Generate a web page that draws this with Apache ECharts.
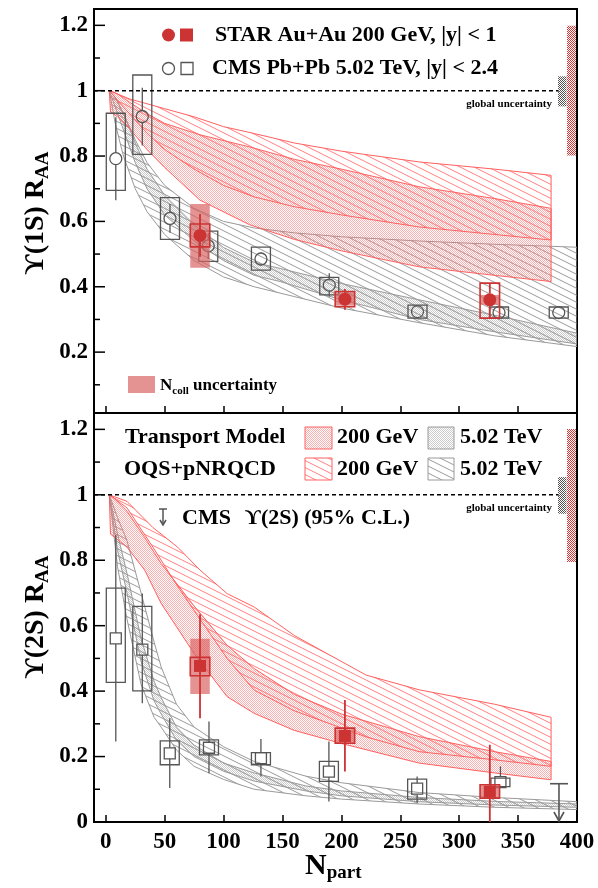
<!DOCTYPE html>
<html><head><meta charset="utf-8">
<script src="https://cdn.jsdelivr.net/npm/echarts@6/dist/echarts.min.js"></script>
<style>html,body{margin:0;padding:0;background:#fff}#c{width:598px;height:888px}</style>
</head><body><div id="c"></div>
<script>
// ===== Υ(1S) panel data =====
const cms1S_Npart  = [8.5, 31, 54.5, 87, 131.7, 189.7, 264.6, 333.8, 384.5];
const cms1S_RAA    = [0.792, 0.921, 0.609, 0.525, 0.485, 0.405, 0.324, 0.321, 0.321];
const cms1S_statLo = [0.665, 0.832, 0.565, 0.485, 0.465, 0.370, 0.314, 0.311, 0.311];
const cms1S_statHi = [0.919, 1.009, 0.653, 0.565, 0.505, 0.441, 0.334, 0.331, 0.331];
const cms1S_sysLo  = [0.695, 0.805, 0.545, 0.478, 0.451, 0.375, 0.304, 0.304, 0.304];
const cms1S_sysHi  = [0.931, 1.048, 0.673, 0.570, 0.521, 0.429, 0.344, 0.338, 0.338];

const star1S_Npart  = [80, 203, 326];
const star1S_RAA    = [0.557, 0.362, 0.360];
const star1S_statLo = [0.492, 0.330, 0.304];
const star1S_statHi = [0.623, 0.393, 0.411];
const star1S_sysLo  = [0.522, 0.339, 0.304];
const star1S_sysHi  = [0.592, 0.385, 0.411];
const star1S_ncollLo = [0.458, 0.342, 0.345];
const star1S_ncollHi = [0.653, 0.382, 0.375];

// model bands, Υ(1S)
const tm200_1S_N  = [3, 4, 10, 20, 35, 50, 80, 122, 160, 200, 266, 330, 378];
const tm200_1S_hi = [1.0, 1.0, 0.99, 0.965, 0.93, 0.90, 0.865, 0.828, 0.79, 0.76, 0.706, 0.67, 0.640];
const tm200_1S_lo = [1.0, 0.935, 0.92, 0.885, 0.82, 0.765, 0.665, 0.59, 0.545, 0.51, 0.461, 0.435, 0.416];
const oqs200_1S_N  = [3, 10, 20, 35, 50, 75, 100, 126, 160, 200, 266, 330, 378];
const oqs200_1S_hi = [1.0, 0.99, 0.975, 0.96, 0.945, 0.92, 0.89, 0.869, 0.84, 0.815, 0.782, 0.76, 0.741];
const oqs200_1S_lo = [1.0, 0.97, 0.93, 0.87, 0.82, 0.76, 0.71, 0.675, 0.645, 0.62, 0.583, 0.56, 0.543];
const tm502_1S_N  = [3, 8, 15, 25, 35, 50, 75, 100, 126, 148, 200, 266, 334, 400];
const tm502_1S_hi = [1.0, 0.98, 0.93, 0.84, 0.76, 0.68, 0.59, 0.52, 0.475, 0.456, 0.41, 0.36, 0.31, 0.258];
const tm502_1S_lo = [1.0, 0.95, 0.88, 0.78, 0.70, 0.62, 0.54, 0.48, 0.435, 0.416, 0.36, 0.30, 0.26, 0.225];
const oqs502_1S_N  = [3, 8, 15, 25, 35, 50, 75, 100, 126, 160, 200, 266, 330, 400];
const oqs502_1S_hi = [1.0, 0.98, 0.93, 0.85, 0.78, 0.71, 0.64, 0.60, 0.58, 0.565, 0.553, 0.54, 0.53, 0.521];
const oqs502_1S_lo = [1.0, 0.90, 0.80, 0.70, 0.63, 0.56, 0.48, 0.43, 0.40, 0.37, 0.335, 0.29, 0.25, 0.217];

// ===== Υ(2S) panel data =====
const cms2S_Npart  = [8.5, 31, 54.3, 87.6, 131.7, 189.4, 264.3, 335];
const cms2S_RAA    = [0.561, 0.527, 0.210, 0.227, 0.195, 0.154, 0.102, 0.122];
const cms2S_statLo = [0.246, 0.363, 0.104, 0.149, 0.139, 0.063, 0.058, 0.105];
const cms2S_statHi = [0.877, 0.698, 0.317, 0.307, 0.254, 0.246, 0.139, 0.170];
const cms2S_sysLo  = [0.427, 0.401, 0.175, 0.205, 0.175, 0.124, 0.070, 0.108];
const cms2S_sysHi  = [0.715, 0.659, 0.248, 0.251, 0.212, 0.185, 0.131, 0.134];
const cms2S_limitNpart = [384.7];
const cms2S_limitRAA   = [0.117];

const star2S_Npart  = [80, 203, 326];
const star2S_RAA    = [0.477, 0.263, 0.093];
const star2S_statLo = [0.317, 0.154, 0.0];
const star2S_statHi = [0.635, 0.373, 0.236];
const star2S_sysLo  = [0.447, 0.241, 0.073];
const star2S_sysHi  = [0.503, 0.287, 0.114];
const star2S_ncollLo = [0.391, 0.245, 0.075];
const star2S_ncollHi = [0.560, 0.283, 0.112];

const tm200_2S_N  = [3, 4, 18, 33, 47, 75, 103, 126, 160, 200, 266, 330, 378];
const tm200_2S_hi = [1.0, 1.0, 0.95, 0.87, 0.79, 0.66, 0.54, 0.469, 0.39, 0.33, 0.261, 0.215, 0.185];
const tm200_2S_lo = [1.0, 0.88, 0.84, 0.77, 0.668, 0.515, 0.383, 0.332, 0.28, 0.24, 0.18, 0.15, 0.129];
const oqs200_2S_N  = [3, 18, 40, 61, 80, 103, 126, 160, 221, 266, 330, 378];
const oqs200_2S_hi = [1.0, 0.98, 0.90, 0.84, 0.77, 0.698, 0.657, 0.57, 0.449, 0.404, 0.36, 0.32];
const oqs200_2S_lo = [1.0, 0.96, 0.84, 0.72, 0.62, 0.50, 0.403, 0.34, 0.26, 0.215, 0.19, 0.17];
const oqs502_2S_N  = [3, 10, 18, 30, 41, 47, 60, 75, 100, 126, 170, 200, 266, 330, 400];
const oqs502_2S_hi = [1.0, 0.93, 0.86, 0.70, 0.55, 0.474, 0.36, 0.29, 0.23, 0.185, 0.14, 0.12, 0.09, 0.075, 0.062];
const oqs502_2S_lo = [1.0, 0.78, 0.62, 0.42, 0.32, 0.29, 0.22, 0.17, 0.13, 0.10, 0.08, 0.07, 0.055, 0.045, 0.038];
const tm502_2S_N  = [3, 10, 18, 30, 41, 47, 60, 75, 100, 126, 170, 200, 266, 330, 400];
const tm502_2S_hi = [1.0, 0.88, 0.76, 0.56, 0.43, 0.38, 0.29, 0.235, 0.18, 0.15, 0.11, 0.095, 0.075, 0.063, 0.055];
const tm502_2S_lo = [1.0, 0.83, 0.70, 0.49, 0.37, 0.33, 0.25, 0.20, 0.155, 0.125, 0.095, 0.08, 0.062, 0.052, 0.045];

// global uncertainties [lo, hi]
const glob1S_star = [0.802, 1.199];
const glob1S_cms  = [0.952, 1.044];
const glob2S_star = [0.795, 1.201];
const glob2S_cms  = [0.942, 1.054];

const refLine = [1];
const majorTicks1S = [0.2, 0.4, 0.6, 0.8, 1.0, 1.2];
const majorTicks2S = [0.2, 0.4, 0.6, 0.8, 1.0, 1.2];
const minorTicks = [0.1, 0.3, 0.5, 0.7, 0.9, 1.1];
const xRange = [-10, 400];
const yRange1S = [0.0137, 1.25];
const yRange2S = [0, 1.25];

// ===== styling helpers =====
const FONT = '"Liberation Serif","Times New Roman",serif';
const RED = '#cc3333';
const GRAY = '#555555';
const NCOLL = 'rgba(218,100,100,0.7)';

function hatchTile(color, w, h, lw) {
  const c = document.createElement('canvas'); c.width = w; c.height = h;
  const g = c.getContext('2d'); g.strokeStyle = color; g.lineWidth = lw;
  g.beginPath();
  for (const k of [-1, 0, 1]) { g.moveTo(0, k * h); g.lineTo(w, (k + 1) * h); }
  g.stroke();
  return { image: c, repeat: 'repeat' };
}
function dotTile(color) {
  const c = document.createElement('canvas'); c.width = 2; c.height = 2;
  const g = c.getContext('2d'); g.fillStyle = color;
  g.fillRect(0, 0, 1, 1); g.fillRect(1, 1, 1, 1);
  return { image: c, repeat: 'repeat' };
}
function crossTile(color) {
  const c = document.createElement('canvas'); c.width = 4; c.height = 4;
  const g = c.getContext('2d'); g.fillStyle = color;
  [[0,0],[2,0],[1,1],[3,1],[0,2],[2,2],[1,3],[3,3]].forEach(p => g.fillRect(p[0], p[1], 1, 1));
  return { image: c, repeat: 'repeat' };
}
const redHatch = hatchTile('rgba(255,95,95,0.8)', 14, 7, 1);
const grayHatch = hatchTile('rgba(120,120,120,0.75)', 14, 7, 1);
const redDots = dotTile('rgba(250,110,110,0.55)');
const grayDots = dotTile('rgba(140,140,140,0.45)');
const redCross = crossTile('#dd3333');
const grayCross = crossTile('#555555');

function band(ax, N, hi, lo, fill, stroke) {
  return {
    type: 'custom', xAxisIndex: ax, yAxisIndex: ax, silent: true, clip: true,
    data: [[N[0], hi[0]]],
    renderItem: function (params, api) {
      const pts = [];
      for (let i = 0; i < N.length; i++) pts.push(api.coord([N[i], hi[i]]));
      for (let i = N.length - 1; i >= 0; i--) pts.push(api.coord([N[i], lo[i]]));
      return { type: 'polygon', shape: { points: pts }, style: { fill: fill, stroke: stroke, lineWidth: 1 } };
    }
  };
}

function points(ax, rows, o) {
  return {
    type: 'custom', xAxisIndex: ax, yAxisIndex: ax, silent: true, clip: true,
    data: rows,
    renderItem: function (params, api) {
      const N = api.value(0);
      const c = api.coord([N, api.value(1)]);
      const sHi = api.coord([N, api.value(2)]), sLo = api.coord([N, api.value(3)]);
      const yHi = api.coord([N, api.value(4)]), yLo = api.coord([N, api.value(5)]);
      const ch = [];
      if (o.ncoll) {
        const nHi = api.coord([N, api.value(6)]), nLo = api.coord([N, api.value(7)]);
        ch.push({ type: 'rect', shape: { x: c[0] - o.boxW / 2, y: nHi[1], width: o.boxW, height: nLo[1] - nHi[1] }, style: { fill: NCOLL } });
      }
      ch.push({ type: 'rect', shape: { x: c[0] - o.boxW / 2, y: yHi[1], width: o.boxW, height: yLo[1] - yHi[1] },
        style: { fill: o.boxFill || 'none', stroke: o.color, lineWidth: o.boxLW || 1.3 } });
      const r = o.size / 2;
      if (sHi[1] < c[1] - r) ch.push({ type: 'line', shape: { x1: c[0], y1: sHi[1], x2: c[0], y2: c[1] - r }, style: { stroke: o.color, lineWidth: o.barLW || 1.3 } });
      if (sLo[1] > c[1] + r) ch.push({ type: 'line', shape: { x1: c[0], y1: c[1] + r, x2: c[0], y2: sLo[1] }, style: { stroke: o.color, lineWidth: o.barLW || 1.3 } });
      const mStyle = o.filled ? { fill: o.color } : { fill: 'none', stroke: o.color, lineWidth: 1.3 };
      if (o.marker === 'circle') ch.push({ type: 'circle', shape: { cx: c[0], cy: c[1], r: r }, style: mStyle });
      else ch.push({ type: 'rect', shape: { x: c[0] - r, y: c[1] - r, width: 2 * r, height: 2 * r }, style: mStyle });
      return { type: 'group', children: ch };
    }
  };
}

function rowsOf(N, v, sLo, sHi, yLo, yHi, nLo, nHi) {
  return N.map((n, i) => nLo ? [n, v[i], sHi[i], sLo[i], yHi[i], yLo[i], nHi[i], nLo[i]] : [n, v[i], sHi[i], sLo[i], yHi[i], yLo[i]]);
}

function refSeries(ax) {
  return {
    type: 'custom', xAxisIndex: ax, yAxisIndex: ax, silent: true, z: 5,
    data: refLine.map(v => [v]),
    renderItem: function (params, api) {
      const v = api.value(0);
      const a = api.coord([xRange[0], v]), b = api.coord([xRange[1], v]);
      return { type: 'line', shape: { x1: a[0], y1: a[1], x2: b[0] - 18, y2: b[1] }, style: { stroke: '#000', lineWidth: 1.6, lineDash: [4, 3] } };
    }
  };
}
function tickSeries(ax, ticks, len) {
  return {
    type: 'custom', xAxisIndex: ax, yAxisIndex: ax, silent: true, z: 6,
    data: ticks.map(v => [v]),
    renderItem: function (params, api) {
      const p = api.coord([xRange[0], api.value(0)]);
      return { type: 'line', shape: { x1: p[0], y1: p[1], x2: p[0] + len, y2: p[1] }, style: { stroke: '#000', lineWidth: 1.5 } };
    }
  };
}
function globSeries(ax, star, cms) {
  return {
    type: 'custom', xAxisIndex: ax, yAxisIndex: ax, silent: true, z: 6,
    data: [[star[0], star[1], 0], [cms[0], cms[1], 1]],
    renderItem: function (params, api) {
      const cs = params.coordSys;
      const right = cs.x + cs.width;
      const hi = api.coord([0, api.value(1)]), lo = api.coord([0, api.value(0)]);
      const isCms = api.value(2) === 1;
      const x = isCms ? right - 19 : right - 10;
      return { type: 'rect', shape: { x: x, y: hi[1], width: isCms ? 8.5 : 9, height: lo[1] - hi[1] },
        style: { fill: isCms ? grayCross : redCross } };
    }
  };
}
function limitSeries(ax) {
  return {
    type: 'custom', xAxisIndex: ax, yAxisIndex: ax, silent: true, z: 8,
    data: cms2S_limitNpart.map((n, i) => [n, cms2S_limitRAA[i]]),
    renderItem: function (params, api) {
      const t = api.coord([api.value(0), api.value(1)]);
      const b = api.coord([api.value(0), 0]);
      const st = { stroke: GRAY, lineWidth: 1.6, fill: 'none' };
      return { type: 'group', children: [
        { type: 'line', shape: { x1: t[0] - 9, y1: t[1], x2: t[0] + 9, y2: t[1] }, style: st },
        { type: 'line', shape: { x1: t[0], y1: t[1], x2: t[0], y2: b[1] - 1 }, style: st },
        { type: 'polyline', shape: { points: [[t[0] - 5, b[1] - 10], [t[0], b[1] - 1], [t[0] + 5, b[1] - 10]] }, style: st }
      ] };
    }
  };
}

function yLab(v) {
  const k = Math.round(v * 5);
  if (Math.abs(v * 5 - k) > 1e-6) return '';
  return String(parseFloat((k / 5).toFixed(1)));
}
const labStyle = { fontFamily: FONT, fontWeight: 'bold', fontSize: 23, color: '#000' };
function xAx(gi, showLabel) {
  return { gridIndex: gi, type: 'value', min: xRange[0], max: xRange[1], splitNumber: 8,
    axisLine: { show: false }, splitLine: { show: false },
    axisTick: { show: true, inside: true, length: 7, lineStyle: { color: '#000', width: 1.5 } },
    axisLabel: Object.assign({ show: showLabel, margin: 9, formatter: v => (v < 0 ? '' : String(v)) }, labStyle) };
}
function yAx(gi, range) {
  return { gridIndex: gi, type: 'value', min: range[0], max: range[1], splitNumber: 6,
    axisLine: { show: false }, splitLine: { show: false },
    axisTick: { show: false },
    axisLabel: Object.assign({ margin: 6, formatter: yLab }, labStyle) };
}

const series = [
  band(0, oqs502_1S_N, oqs502_1S_hi, oqs502_1S_lo, grayHatch, '#9a9a9a'),
  band(0, tm502_1S_N, tm502_1S_hi, tm502_1S_lo, grayDots, '#9a9a9a'),
  band(0, tm200_1S_N, tm200_1S_hi, tm200_1S_lo, redDots, '#ff6060'),
  band(0, oqs200_1S_N, oqs200_1S_hi, oqs200_1S_lo, redHatch, '#ff6060'),
  band(1, oqs502_2S_N, oqs502_2S_hi, oqs502_2S_lo, grayHatch, '#9a9a9a'),
  band(1, tm502_2S_N, tm502_2S_hi, tm502_2S_lo, grayDots, '#9a9a9a'),
  band(1, tm200_2S_N, tm200_2S_hi, tm200_2S_lo, redDots, '#ff6060'),
  band(1, oqs200_2S_N, oqs200_2S_hi, oqs200_2S_lo, redHatch, '#ff6060'),
  refSeries(0), refSeries(1),
  tickSeries(0, minorTicks, 6), tickSeries(1, minorTicks, 6),
  tickSeries(0, majorTicks1S, 11), tickSeries(1, majorTicks2S, 11),
  globSeries(0, glob1S_star, glob1S_cms), globSeries(1, glob2S_star, glob2S_cms),
  points(0, rowsOf(cms1S_Npart, cms1S_RAA, cms1S_statLo, cms1S_statHi, cms1S_sysLo, cms1S_sysHi),
    { color: GRAY, boxW: 19, marker: 'circle', filled: false, size: 12 }),
  points(0, rowsOf(star1S_Npart, star1S_RAA, star1S_statLo, star1S_statHi, star1S_sysLo, star1S_sysHi, star1S_ncollLo, star1S_ncollHi),
    { color: RED, boxW: 19.5, marker: 'circle', filled: true, size: 13, ncoll: true, boxLW: 1.6, barLW: 1.8 }),
  points(1, rowsOf(cms2S_Npart, cms2S_RAA, cms2S_statLo, cms2S_statHi, cms2S_sysLo, cms2S_sysHi),
    { color: GRAY, boxW: 19, marker: 'square', filled: false, size: 11 }),
  points(1, rowsOf(star2S_Npart, star2S_RAA, star2S_statLo, star2S_statHi, star2S_sysLo, star2S_sysHi, star2S_ncollLo, star2S_ncollHi),
    { color: RED, boxW: 19.5, marker: 'square', filled: true, size: 12, ncoll: true, boxLW: 1.6, barLW: 1.8 }),
  limitSeries(1)
];
series.forEach((s, i) => { if (s.z == null) s.z = 2 + i * 0.01; });

const T = (text, x, y, size, extra) => Object.assign({ type: 'text', x: x, y: y, z: 100,
  style: { text: text, fontFamily: FONT, fontWeight: 'bold', fontSize: size, fill: '#000', align: 'left', verticalAlign: 'middle' } }, extra || {});

const UPS = '\u03D2';
const graphics = [
  // top legend
  { type: 'circle', z: 100, shape: { cx: 168.5, cy: 35, r: 6.5 }, style: { fill: RED } },
  { type: 'rect', z: 100, shape: { x: 180, y: 28.5, width: 13, height: 13 }, style: { fill: RED } },
  T('STAR Au+Au 200 GeV, |y| < 1', 215, 35, 22),
  { type: 'circle', z: 100, shape: { cx: 168.5, cy: 68.5, r: 6 }, style: { fill: 'none', stroke: GRAY, lineWidth: 1.3 } },
  { type: 'rect', z: 100, shape: { x: 181, y: 62.5, width: 12, height: 12 }, style: { fill: 'none', stroke: GRAY, lineWidth: 1.3 } },
  T('CMS Pb+Pb 5.02 TeV, |y| < 2.4', 212, 68, 22),
  T('global uncertainty', 552, 104, 11, {}),
  T('global uncertainty', 552, 508, 11, {}),
  // Ncoll legend
  { type: 'rect', z: 100, shape: { x: 128, y: 376, width: 27, height: 17 }, style: { fill: NCOLL } },
  { type: 'text', x: 160, y: 386, z: 100, style: { text: '{a|N}{b|coll}{a| uncertainty}', fontFamily: FONT, fontWeight: 'bold', verticalAlign: 'middle',
      rich: { a: { fontFamily: FONT, fontWeight: 'bold', fontSize: 17, lineHeight: 22 }, b: { fontFamily: FONT, fontWeight: 'bold', fontSize: 11, padding: [8, 0, 0, 0], verticalAlign: 'bottom' } } } },
  // bottom legend
  T('Transport Model', 125, 437, 22),
  T('OQS+pNRQCD', 124, 469, 22),
  { type: 'rect', z: 100, shape: { x: 305, y: 427, width: 27, height: 22 }, style: { fill: redDots, stroke: '#ff6060', lineWidth: 1 } },
  { type: 'rect', z: 100, shape: { x: 305, y: 458, width: 27, height: 22 }, style: { fill: redHatch, stroke: '#ff6060', lineWidth: 1 } },
  { type: 'rect', z: 100, shape: { x: 428, y: 427, width: 26, height: 22 }, style: { fill: grayDots, stroke: '#9a9a9a', lineWidth: 1 } },
  { type: 'rect', z: 100, shape: { x: 428, y: 458, width: 26, height: 22 }, style: { fill: grayHatch, stroke: '#9a9a9a', lineWidth: 1 } },
  T('200 GeV', 337, 437, 22), T('200 GeV', 337, 469, 22),
  T('5.02 TeV', 460, 437, 22), T('5.02 TeV', 460, 469, 22),
  { type: 'line', z: 100, shape: { x1: 159, y1: 509, x2: 167, y2: 509 }, style: { stroke: GRAY, lineWidth: 1.5 } },
  { type: 'line', z: 100, shape: { x1: 163, y1: 509, x2: 163, y2: 525 }, style: { stroke: GRAY, lineWidth: 1.5 } },
  { type: 'polyline', z: 100, shape: { points: [[160, 520], [163, 525], [166, 520]] }, style: { stroke: GRAY, lineWidth: 1.5, fill: 'none' } },
  T('CMS', 182, 518, 22),
  T(UPS + '(2S) (95% C.L.)', 245, 518, 22),
  // axis titles
  { type: 'text', x: 36, y: 213, rotation: Math.PI / 2, z: 100, style: { text: '{a|' + UPS + '(1S) R}{b|AA}', align: 'center', verticalAlign: 'middle',
      rich: { a: { fontFamily: FONT, fontWeight: 'bold', fontSize: 28, lineHeight: 32 }, b: { fontFamily: FONT, fontWeight: 'bold', fontSize: 19, padding: [14, 0, 0, 0], verticalAlign: 'bottom' } } } },
  { type: 'text', x: 36, y: 617, rotation: Math.PI / 2, z: 100, style: { text: '{a|' + UPS + '(2S) R}{b|AA}', align: 'center', verticalAlign: 'middle',
      rich: { a: { fontFamily: FONT, fontWeight: 'bold', fontSize: 28, lineHeight: 32 }, b: { fontFamily: FONT, fontWeight: 'bold', fontSize: 19, padding: [14, 0, 0, 0], verticalAlign: 'bottom' } } } },
  { type: 'text', x: 305, y: 866, z: 100, style: { text: '{a|N}{b|part}', align: 'left', verticalAlign: 'middle',
      rich: { a: { fontFamily: FONT, fontWeight: 'bold', fontSize: 30, lineHeight: 32 }, b: { fontFamily: FONT, fontWeight: 'bold', fontSize: 19, padding: [14, 0, 0, 0], verticalAlign: 'bottom' } } } }
];
graphics[6].style.align = 'right';
graphics[7].style.align = 'right';

const chart = echarts.init(document.getElementById('c'), null, { renderer: 'canvas' });
chart.setOption({
  animation: false,
  backgroundColor: '#fff',
  grid: [
    { left: 94, top: 9, width: 483, height: 404, show: true, borderColor: '#000', borderWidth: 2, backgroundColor: 'transparent' },
    { left: 94, top: 413, width: 483, height: 409, show: true, borderColor: '#000', borderWidth: 2, backgroundColor: 'transparent' }
  ],
  xAxis: [xAx(0, false), xAx(1, true)],
  yAxis: [yAx(0, yRange1S), yAx(1, yRange2S)],
  series: series,
  graphic: { elements: graphics }
});
</script></body></html>
